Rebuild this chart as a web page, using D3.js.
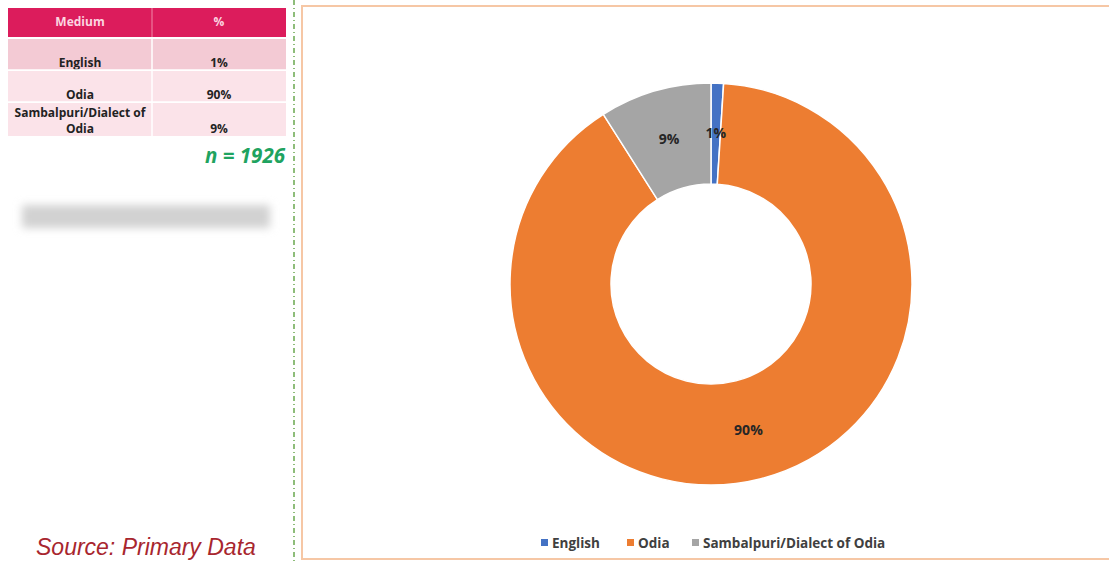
<!DOCTYPE html>
<html>
<head>
<meta charset="utf-8">
<script src="https://cdn.jsdelivr.net/npm/d3@7"></script>
<style>
  body { margin: 0; background: #fff; }
  svg { display: block; font-family: "Open Sans", "DejaVu Sans", sans-serif; }
</style>
</head>
<body>
<div id="chart"></div>
<script>
// Data
var categories = ['English', 'Odia', 'Sambalpuri/Dialect of Odia'];
var values = [1, 90, 9];
var colors = ['#4472c4', '#ed7d31', '#a5a5a5'];
var tableHeader = ['Medium', '%'];
var tableRows = [
    ['English', '1%'],
    ['Odia', '90%'],
    ['Sambalpuri/Dialect of\nOdia', '9%']
];
var sampleNote = 'n = 1926';
var sourceNote = 'Source: Primary Data';

var W = 1109, H = 563;
var svg = d3.select('#chart').append('svg')
    .attr('width', W)
    .attr('height', H);

var defs = svg.append('defs');
defs.append('filter').attr('id', 'blur')
    .attr('x', '-20%').attr('y', '-100%').attr('width', '140%').attr('height', '300%')
    .append('feGaussianBlur').attr('stdDeviation', 4);

/* ---- left table ---- */
var tx = 8, colX = 152, tw = 278;
var rowTops = [39, 71, 103];
var rowHeights = [31, 31, 33];
var rowFills = ['#f3cad4', '#fbe3e9', '#fbe3e9'];

svg.append('rect')
    .attr('x', tx).attr('y', 8).attr('width', tw).attr('height', 29)
    .attr('fill', '#dc1c5c');
svg.append('line')
    .attr('x1', colX).attr('x2', colX).attr('y1', 8).attr('y2', 37)
    .attr('stroke', '#f08aa8').attr('stroke-width', 1);
svg.append('text')
    .attr('x', (tx + colX) / 2).attr('y', 26)
    .attr('text-anchor', 'middle').attr('font-size', '12px').attr('font-weight', 'bold')
    .attr('fill', '#fbd5e0').text(tableHeader[0]);
svg.append('text')
    .attr('x', (colX + tx + tw) / 2).attr('y', 26)
    .attr('text-anchor', 'middle').attr('font-size', '12px').attr('font-weight', 'bold')
    .attr('fill', '#fbd5e0').text(tableHeader[1]);

tableRows.forEach(function(r, i) {
    var y0 = rowTops[i], h = rowHeights[i];
    svg.append('rect')
        .attr('x', tx).attr('y', y0).attr('width', tw).attr('height', h)
        .attr('fill', rowFills[i]);
    var lines = r[0].split('\n');
    lines.forEach(function(t, j) {
        svg.append('text')
            .attr('x', (tx + colX) / 2)
            .attr('y', y0 + h - 3 - (lines.length - 1 - j) * 16)
            .attr('text-anchor', 'middle').attr('font-size', '12px').attr('font-weight', 'bold')
            .attr('fill', '#222').text(t);
    });
    svg.append('text')
        .attr('x', (colX + tx + tw) / 2).attr('y', y0 + h - 3)
        .attr('text-anchor', 'middle').attr('font-size', '12px').attr('font-weight', 'bold')
        .attr('fill', '#222').text(r[1]);
});
svg.append('line')
    .attr('x1', colX).attr('x2', colX).attr('y1', 39).attr('y2', 136)
    .attr('stroke', '#fff').attr('stroke-width', 1.5);
[70, 102].forEach(function(y) {
    svg.append('line')
        .attr('x1', tx).attr('x2', tx + tw).attr('y1', y).attr('y2', y)
        .attr('stroke', '#fff').attr('stroke-width', 1.5);
});

svg.append('text')
    .attr('x', 285).attr('y', 163)
    .attr('text-anchor', 'end').attr('font-size', '20.5px').attr('font-weight', 'bold')
    .attr('font-style', 'italic').attr('fill', '#1fa360')
    .text(sampleNote);

// blurred placeholder bar
svg.append('rect')
    .attr('x', 22).attr('y', 205).attr('width', 248).attr('height', 23)
    .attr('fill', '#d2d2d2').attr('filter', 'url(#blur)');

svg.append('text')
    .attr('x', 36).attr('y', 555)
    .attr('font-family', 'Liberation Sans, Arial, sans-serif')
    .attr('font-size', '23px').attr('font-style', 'italic')
    .attr('fill', '#a8262e')
    .text(sourceNote);

// dashed divider
svg.append('line')
    .attr('x1', 294).attr('x2', 294).attr('y1', 0).attr('y2', H)
    .attr('stroke', '#6aa84f').attr('stroke-width', 1.5)
    .attr('stroke-dasharray', '5,3,1,3');

// chart border
svg.append('rect')
    .attr('x', 302).attr('y', 6).attr('width', 820).attr('height', 553)
    .attr('fill', 'none').attr('stroke', '#f6c7a5').attr('stroke-width', 2);

/* ---- donut ---- */
var cx = 711, cy = 284, outerR = 201, innerR = 100;
var pie = d3.pie().sort(null).value(function(d) { return d; });
var arc = d3.arc().innerRadius(innerR).outerRadius(outerR);
var arcs = pie(values);

var g = svg.append('g').attr('transform', 'translate(' + cx + ',' + cy + ')');
g.selectAll('path')
    .data(arcs)
    .enter()
    .append('path')
    .attr('d', arc)
    .attr('fill', function(d, i) { return colors[i]; })
    .attr('stroke', '#fff')
    .attr('stroke-width', 1.5);

var labelArc = d3.arc().innerRadius((innerR + outerR) / 2).outerRadius((innerR + outerR) / 2);
g.selectAll('.lbl')
    .data(arcs)
    .enter()
    .append('text')
    .attr('class', 'lbl')
    .attr('transform', function(d) { return 'translate(' + labelArc.centroid(d) + ')'; })
    .attr('text-anchor', 'middle')
    .attr('dy', '0.35em')
    .attr('font-size', '14px')
    .attr('font-weight', 'bold')
    .attr('fill', '#262626')
    .text(function(d) { return d.data + '%'; });

/* ---- legend ---- */
var legendX = [541, 627, 692];
var legend = svg.append('g');
categories.forEach(function(c, i) {
    legend.append('rect')
        .attr('x', legendX[i]).attr('y', 539).attr('width', 7).attr('height', 7)
        .attr('fill', colors[i]);
    legend.append('text')
        .attr('x', legendX[i] + 11).attr('y', 548)
        .attr('font-size', '13.5px').attr('font-weight', 'bold')
        .attr('fill', '#404040')
        .text(c);
});
</script>
</body>
</html>
